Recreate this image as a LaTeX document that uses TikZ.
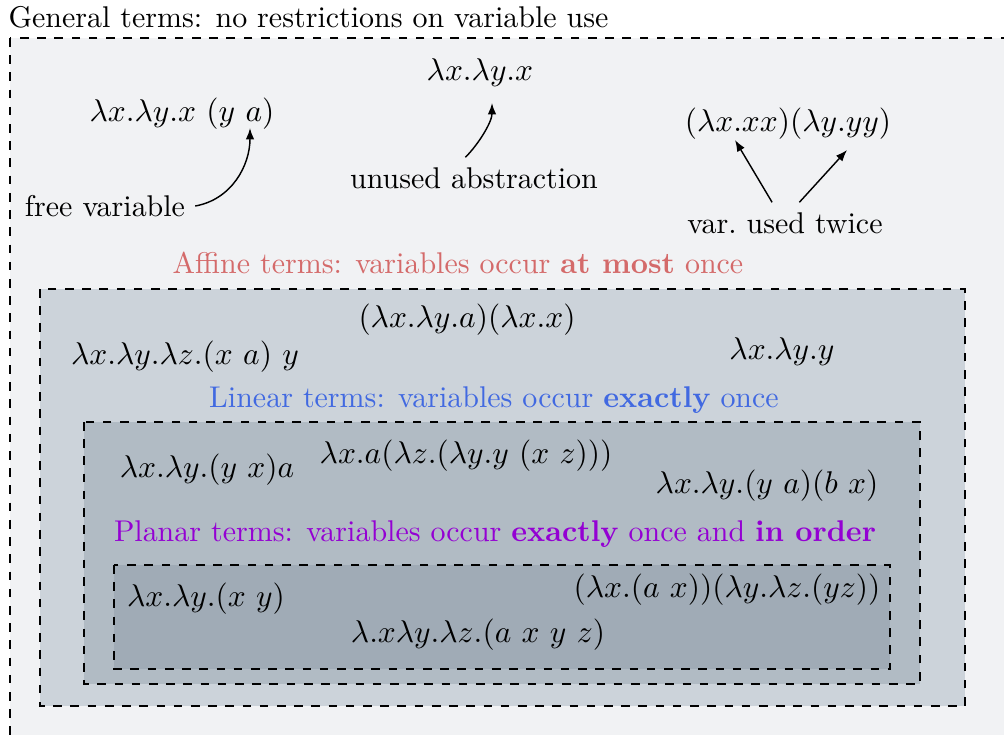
\documentclass[tikz,border=0pt]{standalone}
\usepackage{amsmath,amssymb}
\usepackage{tikz}
\usetikzlibrary{arrows.meta,positioning}
\usepackage{xcolor}
\definecolor{generalbg}{RGB}{241,242,244}
\definecolor{affinebg}{RGB}{204,211,218}
\definecolor{linearbg}{RGB}{177,187,196}
\definecolor{planarbg}{RGB}{160,171,182}
\definecolor{affinecolor}{RGB}{212,106,106}
\definecolor{linearcolor}{RGB}{65,105,225}
\definecolor{planarcolor}{RGB}{148,0,211}

\begin{document}
\begin{tikzpicture}[x=0.01225cm,y=-0.01225cm,
    term/.style={font=\fontsize{10.8}{13}\selectfont},
    note/.style={font=\fontsize{10.45}{12.5}\selectfont},
    region/.style={draw=black,dashed,line width=0.55pt},
    pointer/.style={-{Latex[length=4pt,width=3pt]},line width=0.5pt}]
        \useasboundingbox (0,0) rectangle (1004,734);
        \clip (0,0) rectangle (1004,734);
        % nested regions
        \draw[region,fill=generalbg] (10,38) rectangle (1040,790);
        \draw[region,fill=affinebg] (40,289) rectangle (965,706);
        \draw[region,fill=linearbg] (84,422) rectangle (920,684);
        \draw[region,fill=planarbg] (114,565) rectangle (890,669);
        % headings
        \node[note,anchor=base west,inner sep=0] (general) at (8,27) {General terms: no restrictions on variable use};
        \node[note,text=affinecolor] (affine) at (458,263) {Affine terms: variables occur \textbf{at most} once};
        \node[note,text=linearcolor] (linear) at (494,400) {Linear terms: variables occur \textbf{exactly} once};
        \node[note,text=planarcolor] (planar) at (495,534) {Planar terms: variables occur \textbf{exactly} once and \textbf{in order}};
        % general terms
        \node[term] (freeterm) at (182,114) {$\lambda x.\lambda y.x\ (y\ a)$};
        \node[term] (unusedterm) at (480,73) {$\lambda x.\lambda y.x$};
        \node[term] (twiceterm) at (788,124) {$(\lambda x.xx)(\lambda y.yy)$};
        \node[note] (freevar) at (105,206) {free variable};
        \node[note] (unused) at (474,178) {unused abstraction};
        \node[note] (twice) at (785,223) {var.\ used twice};
        \coordinate (freea) at (250,128);
        \coordinate (unusedx) at (492,103);
        \coordinate (twicex) at (735,140);
        \coordinate (twicey) at (847,150);
        \draw[pointer] (freevar.east) to[out=10,in=-90] (freea);
        \draw[pointer] ([xshift=-3pt]unused.north) to[out=45,in=-90,looseness=0.8] (unusedx);
        \draw[pointer] ([xshift=-4.5pt]twice.north) -- (twicex);
        \draw[pointer] ([xshift=5pt]twice.north) -- (twicey);
        % affine terms
        \node[term] (aff1) at (467,320) {$(\lambda x.\lambda y.a)(\lambda x.x)$};
        \node[term] (aff2) at (185,357) {$\lambda x.\lambda y.\lambda z.(x\ a)\ y$};
        \node[term] (aff3) at (782,352) {$\lambda x.\lambda y.y$};
        % linear terms
        \node[term] (lin1) at (207,470) {$\lambda x.\lambda y.(y\ x)a$};
        \node[term] (lin2) at (466,456) {$\lambda x.a(\lambda z.(\lambda y.y\ (x\ z)))$};
        \node[term] (lin3) at (767,486) {$\lambda x.\lambda y.(y\ a)(b\ x)$};
        % planar terms
        \node[term] (pla1) at (206,599) {$\lambda x.\lambda y.(x\ y)$};
        \node[term] (pla2) at (727,590) {$(\lambda x.(a\ x))(\lambda y.\lambda z.(yz))$};
        \node[term] (pla3) at (478,635) {$\lambda.x\lambda y.\lambda z.(a\ x\ y\ z)$};
      \end{tikzpicture}
\end{document}
